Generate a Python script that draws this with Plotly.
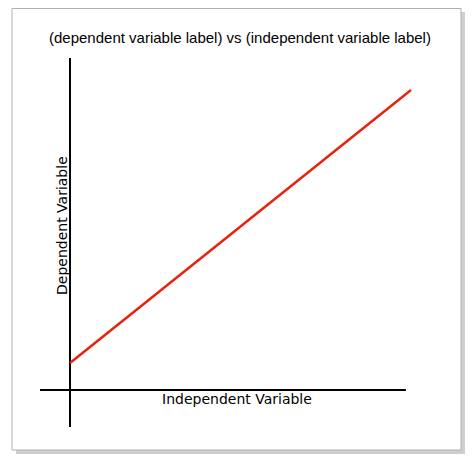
import plotly.graph_objects as go

line_x = [0, 10]
line_y = [0.9, 10]
xaxis_x = [-0.88, 9.85]
xaxis_y = [0, 0]
yaxis_x = [0, 0]
yaxis_y = [-1.23, 11.07]
title = "(dependent variable label) vs (independent variable label)"
xlabel = "Independent Variable"
ylabel = "Dependent Variable"

OFF = 8  # body margin offset
W, H = 458, 450

fig = go.Figure()
fig.add_trace(go.Scatter(x=xaxis_x, y=xaxis_y, mode="lines", line=dict(color="black", width=2)))
fig.add_trace(go.Scatter(x=yaxis_x, y=yaxis_y, mode="lines", line=dict(color="black", width=2)))
fig.add_trace(go.Scatter(x=line_x, y=line_y, mode="lines", line=dict(color="#e8230c", width=2.5)))

def px(x): return (x - OFF) / W
def py(y): return 1 - (y - OFF) / H

fig.add_shape(type="rect", xref="paper", yref="paper", x0=px(16), x1=px(465), y0=py(12), y1=py(454),
              line=dict(width=0), fillcolor="#cfcfcf", layer="below")
fig.add_shape(type="rect", xref="paper", yref="paper", x0=px(12), x1=px(461), y0=py(8.5), y1=py(450),
              line=dict(color="#b0b0b0", width=1), fillcolor="white", layer="below")

fig.add_annotation(x=px(240), y=py(27), xref="paper", yref="paper", text=title, showarrow=False,
                   font=dict(family="Liberation Sans", size=15, color="black"))
fig.add_annotation(x=px(237), y=py(409), xref="paper", yref="paper", text=xlabel, showarrow=False,
                   font=dict(family="DejaVu Sans", size=14, color="black"))
fig.add_annotation(x=px(52), y=py(226), xref="paper", yref="paper", text=ylabel, showarrow=False, textangle=-90,
                   font=dict(family="DejaVu Sans", size=14, color="black"))

x0 = 70 - OFF
y0 = 390 - OFF
fig.update_layout(width=W, height=H, margin=dict(l=0, r=0, t=0, b=0), showlegend=False,
                  paper_bgcolor="white", plot_bgcolor="rgba(0,0,0,0)",
                  xaxis=dict(range=[-x0/34.1, (W-x0)/34.1], visible=False, fixedrange=True),
                  yaxis=dict(range=[(y0-H)/30, y0/30], visible=False, fixedrange=True))
fig.write_html("out.html", config={"displayModeBar": False})
